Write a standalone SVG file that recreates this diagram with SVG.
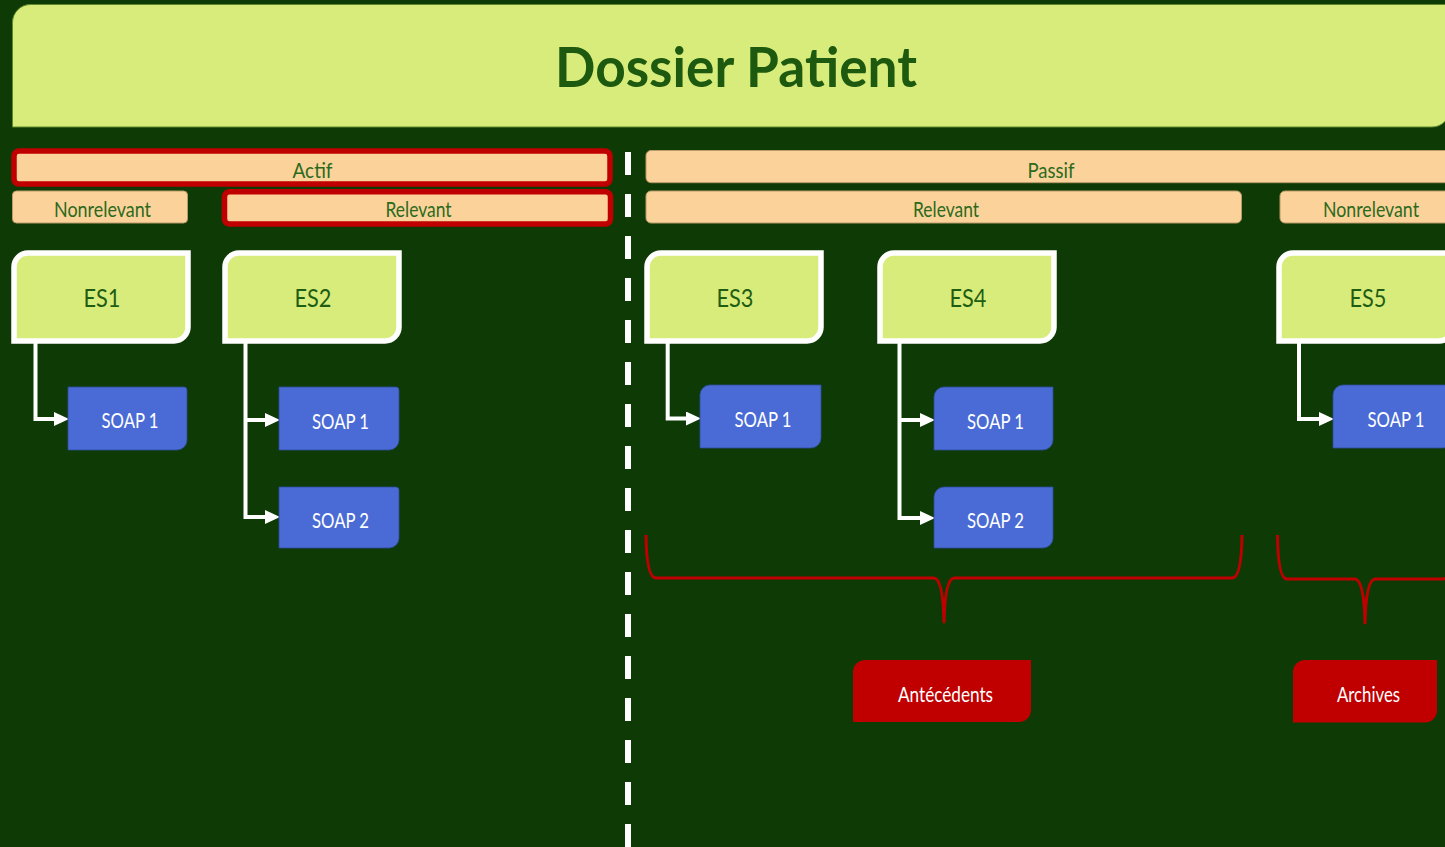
<svg xmlns="http://www.w3.org/2000/svg" width="1445" height="847" viewBox="0 0 1445 847">
<defs>
<style>
.bg{fill:#0E3B05}
.hdr{fill:#D7EC7B;stroke:#5E8A2C;stroke-width:1}
.title{font-family:Lato,"Open Sans","Liberation Sans",sans-serif;font-weight:bold;font-size:56px;fill:#1D5A0F;text-anchor:middle}
.bar{fill:#FCD29B;stroke:#B79A67;stroke-width:1}
.barsel{fill:#FCD29B;stroke:#C00000;stroke-width:5.5}
.bt{font-family:Lato,"Open Sans","Liberation Sans",sans-serif;font-size:22px;fill:#2A6A1C;text-anchor:middle}
.es{fill:#D7EC7B;stroke:#FFFFFF;stroke-width:5.5}
.est{font-family:Lato,"Open Sans","Liberation Sans",sans-serif;font-size:25px;fill:#1F5E12;text-anchor:middle}
.soap{fill:#4A6BD6;stroke:#2E4C9A;stroke-width:0.8}
.wt{font-family:Lato,"Open Sans","Liberation Sans",sans-serif;font-size:22px;fill:#FFFFFF;text-anchor:middle}
.red{fill:#C00000}
.con{fill:none;stroke:#FFFFFF;stroke-width:4;marker-end:url(#arr)}
.brace{fill:none;stroke:#C00000;stroke-width:3;stroke-linejoin:round}
.dash{stroke:#FFFFFF;stroke-width:6;stroke-dasharray:23 19}
</style>
<marker id="arr" markerUnits="userSpaceOnUse" viewBox="0 0 15 14" markerWidth="15" markerHeight="14" refX="7" refY="7" orient="auto">
<path d="M0,0 L15,7 L0,14 Z" fill="#FFFFFF"/>
</marker>
</defs>
<rect class="bg" x="0" y="0" width="1445" height="847"/>

<g id="header">
<path class="hdr" d="M30.5,4.5 H1450 V109 A18,18 0 0 1 1432,127 H12.5 V22.5 A18,18 0 0 1 30.5,4.5 Z"/>
<text class="title" x="736" y="87" textLength="362" lengthAdjust="spacingAndGlyphs">Dossier Patient</text>
</g>

<line id="separator" class="dash" x1="628" y1="152" x2="628" y2="850"/>

<g id="actif">
<rect class="barsel" x="14" y="151" width="596" height="33" rx="5"/>
<text class="bt" x="312.5" y="178" textLength="40" lengthAdjust="spacingAndGlyphs">Actif</text>
</g>
<g id="actif-nonrelevant">
<rect class="bar" x="12.5" y="191" width="175" height="32" rx="4"/>
<text class="bt" x="102.5" y="217" textLength="97" lengthAdjust="spacingAndGlyphs">Nonrelevant</text>
</g>
<g id="actif-relevant">
<rect class="barsel" x="224.5" y="191.8" width="386" height="32.2" rx="5"/>
<text class="bt" x="418.5" y="217" textLength="66" lengthAdjust="spacingAndGlyphs">Relevant</text>
</g>
<g id="passif">
<rect class="bar" x="646" y="150.5" width="810" height="32.2" rx="5"/>
<text class="bt" x="1051" y="178" textLength="47" lengthAdjust="spacingAndGlyphs">Passif</text>
</g>
<g id="passif-relevant">
<rect class="bar" x="646" y="191" width="595.5" height="32" rx="5"/>
<text class="bt" x="946" y="217" textLength="66" lengthAdjust="spacingAndGlyphs">Relevant</text>
</g>
<g id="passif-nonrelevant">
<rect class="bar" x="1280" y="191" width="180" height="32" rx="5"/>
<text class="bt" x="1371" y="217" textLength="96" lengthAdjust="spacingAndGlyphs">Nonrelevant</text>
</g>

<g id="connectors">
<path class="con" d="M35.5,342 V419 H61"/>
<path class="con" d="M245.5,342 V517 H272"/>
<path class="con" d="M245.5,420 H272"/>
<path class="con" d="M667.7,342 V418.5 H693"/>
<path class="con" d="M899.5,342 V518 H927"/>
<path class="con" d="M899.5,420 H927"/>
<path class="con" d="M1299,342 V419 H1326"/>
</g>

<g id="es1">
<path class="es" d="M28,253 H188 V327 A14,14 0 0 1 174,341 H14 V267 A14,14 0 0 1 28,253 Z"/>
<text class="est" x="102" y="307" textLength="37" lengthAdjust="spacingAndGlyphs">ES1</text>
</g>
<g id="es2">
<path class="es" d="M239,253 H399 V327 A14,14 0 0 1 385,341 H225 V267 A14,14 0 0 1 239,253 Z"/>
<text class="est" x="313" y="307" textLength="37" lengthAdjust="spacingAndGlyphs">ES2</text>
</g>
<g id="es3">
<path class="es" d="M661,253 H821 V327 A14,14 0 0 1 807,341 H647 V267 A14,14 0 0 1 661,253 Z"/>
<text class="est" x="735" y="307" textLength="37" lengthAdjust="spacingAndGlyphs">ES3</text>
</g>
<g id="es4">
<path class="es" d="M894,253 H1054 V327 A14,14 0 0 1 1040,341 H880 V267 A14,14 0 0 1 894,253 Z"/>
<text class="est" x="968" y="307" textLength="37" lengthAdjust="spacingAndGlyphs">ES4</text>
</g>
<g id="es5">
<path class="es" d="M1293,253 H1453 V327 A14,14 0 0 1 1439,341 H1279 V267 A14,14 0 0 1 1293,253 Z"/>
<text class="est" x="1368" y="307" textLength="37" lengthAdjust="spacingAndGlyphs">ES5</text>
</g>

<g id="es1-soap1">
<path class="soap" d="M68,387 H184 A3,3 0 0 1 187,390 V440 A10,10 0 0 1 177,450 H68 Z"/>
<text class="wt" x="130" y="428" textLength="57" lengthAdjust="spacingAndGlyphs">SOAP 1</text>
</g>
<g id="es2-soap1">
<path class="soap" d="M279,387 H396 A3,3 0 0 1 399,390 V440 A10,10 0 0 1 389,450 H279 Z"/>
<text class="wt" x="340.5" y="428.5" textLength="57" lengthAdjust="spacingAndGlyphs">SOAP 1</text>
</g>
<g id="es2-soap2">
<path class="soap" d="M279,487 H396 A3,3 0 0 1 399,490 V538 A10,10 0 0 1 389,548 H279 Z"/>
<text class="wt" x="340.5" y="527.5" textLength="57" lengthAdjust="spacingAndGlyphs">SOAP 2</text>
</g>
<g id="es3-soap1">
<path class="soap" d="M710,385 H821 V438 A10,10 0 0 1 811,448 H700 V395 A10,10 0 0 1 710,385 Z"/>
<text class="wt" x="763" y="426.7" textLength="57" lengthAdjust="spacingAndGlyphs">SOAP 1</text>
</g>
<g id="es4-soap1">
<path class="soap" d="M944,387 H1053 V440 A10,10 0 0 1 1043,450 H934 V397 A10,10 0 0 1 944,387 Z"/>
<text class="wt" x="995.5" y="429" textLength="57" lengthAdjust="spacingAndGlyphs">SOAP 1</text>
</g>
<g id="es4-soap2">
<path class="soap" d="M944,487 H1053 V538 A10,10 0 0 1 1043,548 H934 V497 A10,10 0 0 1 944,487 Z"/>
<text class="wt" x="995.5" y="527.5" textLength="57" lengthAdjust="spacingAndGlyphs">SOAP 2</text>
</g>
<g id="es5-soap1">
<path class="soap" d="M1343,385 H1453 V438 A10,10 0 0 1 1443,448 H1333 V395 A10,10 0 0 1 1343,385 Z"/>
<text class="wt" x="1396" y="426.7" textLength="57" lengthAdjust="spacingAndGlyphs">SOAP 1</text>
</g>

<g id="braces">
<path class="brace" d="M646,535 Q646.5,578 656,578 L934,578 Q943,579 944,622 Q945,579 954,578 L1232,578 Q1241.5,578 1242,535"/>
<path class="brace" d="M1277.5,535 Q1278,579 1287,579 L1355,579 Q1364,580 1365,623 Q1366,580 1375,579 L1443,579 Q1452.5,579 1453,535"/>
</g>

<g id="antecedents">
<path class="red" d="M865,660 H1031 V710 A12,12 0 0 1 1019,722 H853 V672 A12,12 0 0 1 865,660 Z"/>
<text class="wt" x="945.5" y="702" textLength="95" lengthAdjust="spacingAndGlyphs">Antécédents</text>
</g>
<g id="archives">
<path class="red" d="M1305,660 H1437 V710.5 A12,12 0 0 1 1425,722.5 H1293 V672 A12,12 0 0 1 1305,660 Z"/>
<text class="wt" x="1368.5" y="702" textLength="63" lengthAdjust="spacingAndGlyphs">Archives</text>
</g>
</svg>
